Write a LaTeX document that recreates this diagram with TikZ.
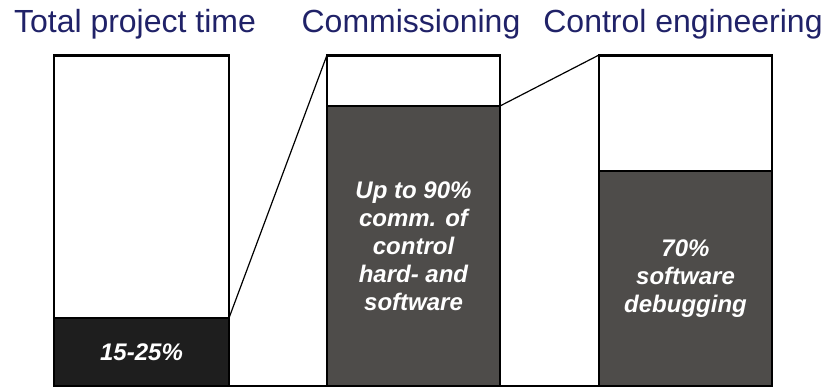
\documentclass[tikz,border=0pt]{standalone}
\usepackage{fontspec}
\setmainfont{Liberation Sans}
\definecolor{titleblue}{RGB}{32,34,104}
\definecolor{segblack}{RGB}{30,30,30}
\definecolor{seggray}{RGB}{78,76,74}
\begin{document}
\begin{tikzpicture}[x=1pt,y=-1pt,
  title/.style={font=\fontsize{32}{36}\selectfont, text=titleblue, anchor=base, inner sep=0pt},
  barbox/.style={draw=black, line width=1.8pt, fill=white, minimum width=#1, inner sep=0pt, outer sep=0pt},
  seg/.style={draw=black, line width=1.2pt, inner sep=0pt, outer sep=0pt, text=white,
    font=\fontsize{24}{28}\selectfont\bfseries\itshape, align=center},
  conn/.style={draw=black, line width=1.2pt}]
\useasboundingbox (0,0) rectangle (825,389);
% titles
\node[title] (t1) at (135,32) {Total project time};
\node[title] (t2) at (411,32) {Commissioning};
\node[title] (t3) at (683,32) {Control engineering};
% bars
\node[barbox=175pt, minimum height=331pt] (bar1) at (141.5,220.5) {};
\node[barbox=173pt, minimum height=331pt] (bar2) at (413.5,220.5) {};
\node[barbox=173pt, minimum height=331pt] (bar3) at (685.5,220.5) {};
% dark segments
\node[seg, fill=segblack, minimum width=175pt, minimum height=68pt] (s1) at (141.5,352) {15-25\%};
\node[seg, fill=seggray, minimum width=173pt, minimum height=280pt] (s2) at (413.5,246)
  {Up to 90\%\\comm. of\\control\\hard- and\\software};
\node[seg, fill=seggray, minimum width=173pt, minimum height=215pt] (s3) at (685.5,278.5)
  {70\%\\software\\debugging};
% re-draw outlines on top
\draw[line width=1.8pt] (bar1.south west) rectangle (bar1.north east);
\draw[line width=1.8pt] (bar2.south west) rectangle (bar2.north east);
\draw[line width=1.8pt] (bar3.south west) rectangle (bar3.north east);
\draw[line width=3pt] (bar1.north west) -- (bar1.north east);
\draw[line width=3pt] (bar2.north west) -- (bar2.north east);
\draw[line width=3pt] (bar3.north west) -- (bar3.north east);
% baseline
\draw[line width=1.8pt] (bar1.south west) -- (bar3.south east);
% connectors
\draw[conn] (s1.north east) -- (bar2.north west);
\draw[conn] (s2.north east) -- (bar3.north west);
\end{tikzpicture}
\end{document}
